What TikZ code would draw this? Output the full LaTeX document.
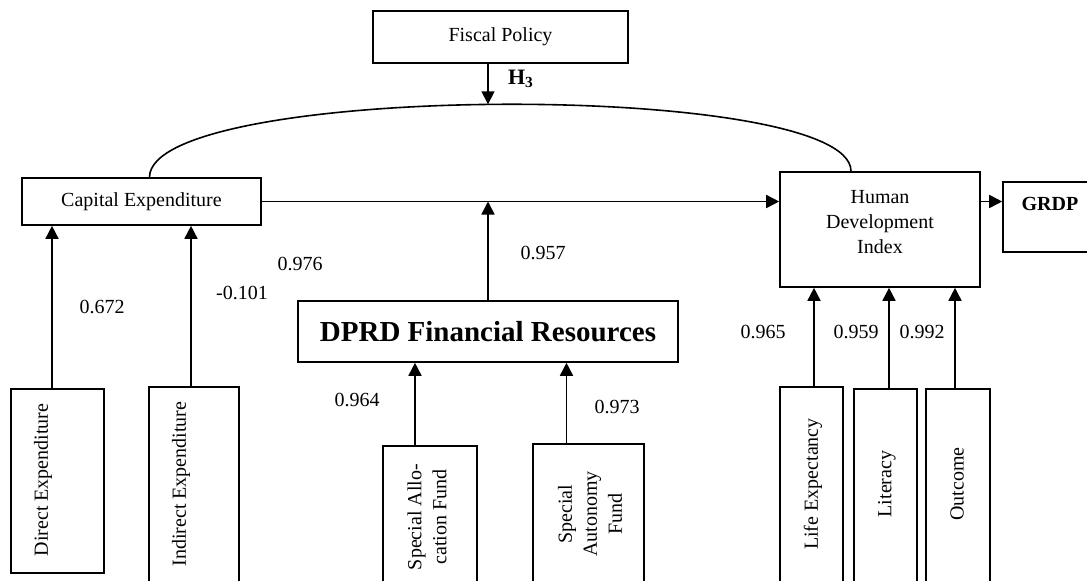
\documentclass[tikz,border=0pt]{standalone}
\usepackage{fontspec}
\setmainfont{Liberation Serif}
\usetikzlibrary{arrows.meta}
\begin{document}
\begin{tikzpicture}
	[	x=0.5pt,y=-0.5pt,
	box/.style={rectangle,draw=black,line width=0.8pt,inner sep=0pt,font=\fontsize{10}{12.5}\selectfont},
	plain/.style={draw=none,fill=none,inner sep=0pt,font=\fontsize{10}{12.5}\selectfont},
	vtext/.style={plain,rotate=90,align=center},
	link/.style={-{Triangle[length=6.5pt,width=6.5pt]},line width=0.8pt}
	]
	\useasboundingbox (0,0) rectangle (1087,580);
	\clip (0,0) rectangle (1087,580);
	% top row
	\node[box,minimum width=127.5pt,minimum height=26pt] (fiscal) at (500.5,37){Fiscal Policy};
	\node[box,minimum width=119.5pt,minimum height=23.5pt] (cap) at (141.5,201.5){Capital Expenditure};
	\node[box,minimum width=100pt,minimum height=57.5pt] (hdi) at (880,229.5){};
	\node[plain,align=center] (hdi-txt) at (880,222){Human\\Development\\Index};
	\node[box,minimum width=48.5pt,minimum height=35pt] (grdp) at (1051.5,217){};
	\node[plain,font=\fontsize{10}{12.5}\selectfont\bfseries] (grdp-txt) at (1050,204){GRDP};
	\node[box,minimum width=190pt,minimum height=30.5pt,font=\fontsize{14.5}{17}\selectfont\bfseries] (dprd) at (488,331.5){DPRD Financial Resources};
	% indicator boxes
	\node[box,minimum width=46.5pt,minimum height=92pt] (direct) at (57.5,481){};
	\node[box,minimum width=45pt,minimum height=106.5pt] (indirect) at (194,493.5){};
	\node[box,minimum width=47pt,minimum height=77pt] (saf) at (430,523){};
	\node[box,minimum width=55.5pt,minimum height=78pt] (sauf) at (588.5,522){};
	\node[box,minimum width=31.5pt,minimum height=106.5pt] (life) at (811.5,493.5){};
	\node[box,minimum width=31.5pt,minimum height=105.5pt] (literacy) at (885.5,494.5){};
	\node[box,minimum width=32pt,minimum height=105.5pt] (outcome) at (958,494.5){};
\node[vtext] at (43,480){Direct Expenditure};
\node[vtext] at (181,484){Indirect Expenditure};
\node[vtext] at (427,517){Special Allo-\\cation Fund};
\node[vtext] at (590,514){Special\\Autonomy\\Fund};
\node[vtext] at (813,484){Life Expectancy};
\node[vtext] at (887,484){Literacy};
\node[vtext] at (957,484){Outcome};
	% coefficients
\node[plain] at (102,307){0.672};
\node[plain] at (242,293){-0.101};
\node[plain] at (300,264){0.976};
\node[plain] at (543,253){0.957};
\node[plain] at (357,400){0.964};
\node[plain] at (617,407){0.973};
\node[plain] at (763,332){0.965};
\node[plain] at (856,332){0.959};
\node[plain] at (922,332){0.992};
\node[plain,font=\fontsize{11}{13}\selectfont\bfseries] at (521,79){H\textsubscript{3}};
	% moderating curve
	\draw[line width=0.8pt] ([xshift=4pt]cap.north) .. controls (150,82) and (851,80) .. ([xshift=-14.5pt]hdi.north) coordinate[pos=0.5] (arctop);
	\draw[link] (fiscal.south -| dprd.north) -- (arctop -| dprd.north);
	% paths
	\draw[link] (cap.east) -- (cap.east -| hdi.west);
	\draw[link] (dprd.north) -- (dprd.north |- cap.east);
	\draw[link] (hdi.east |- cap.east) -- (grdp.west |- cap.east);
	\draw[link] ([xshift=-2.75pt]direct.north) -- ([xshift=-2.75pt]direct.north |- cap.south);
	\draw[link] ([xshift=-1.5pt]indirect.north) -- ([xshift=-1.5pt]indirect.north |- cap.south);
	\draw[link] ([xshift=-7.5pt]saf.north) -- ([xshift=-7.5pt]saf.north |- dprd.south);
	\draw[link] ([xshift=-11pt]sauf.north) -- ([xshift=-11pt]sauf.north |- dprd.south);
	\draw[link] ([xshift=1.25pt]life.north) -- ([xshift=1.25pt]life.north |- hdi.south);
	\draw[link] ([xshift=1.75pt]literacy.north) -- ([xshift=1.75pt]literacy.north |- hdi.south);
	\draw[link] ([xshift=-1.5pt]outcome.north) -- ([xshift=-1.5pt]outcome.north |- hdi.south);
\end{tikzpicture}
\end{document}
